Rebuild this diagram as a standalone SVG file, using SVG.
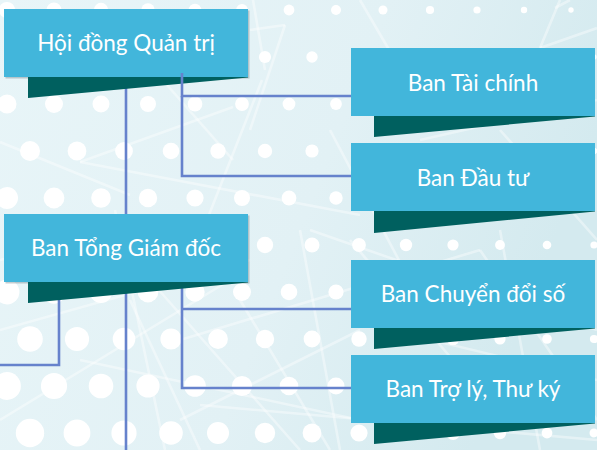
<svg xmlns="http://www.w3.org/2000/svg" width="597" height="450" viewBox="0 0 597 450">
<defs>
<linearGradient id="bg" x1="0" y1="0" x2="1" y2="0.3">
<stop offset="0" stop-color="#e8f5f8"/>
<stop offset="0.6" stop-color="#e2f1f5"/>
<stop offset="1" stop-color="#d4eaef"/>
</linearGradient>
<style>
.dot{fill:#ffffff}
.net{stroke:#ffffff;stroke-opacity:0.4;stroke-width:2.6;fill:none}
.box{fill:#42b6db}
.edge{fill:#5a6f77;opacity:0.35}
.shadow{fill:#00605f}
.conn{stroke:#6682cc;stroke-width:2.6;fill:none}
.lbl{font-family:Lato,"Open Sans","Liberation Sans",sans-serif;font-size:22.5px;fill:#ffffff;text-anchor:middle}
</style>
</defs>
<rect width="597" height="450" fill="url(#bg)"/>
<g id="network">
<line class="net" x1="0" y1="142" x2="130" y2="195"/>
<line class="net" x1="80" y1="162" x2="360" y2="215"/>
<line class="net" x1="80" y1="162" x2="233" y2="107"/>
<line class="net" x1="167" y1="85" x2="233" y2="160"/>
<line class="net" x1="262" y1="80" x2="205" y2="225"/>
<line class="net" x1="253" y1="0" x2="265" y2="70"/>
<line class="net" x1="250" y1="30" x2="285" y2="25"/>
<line class="net" x1="285" y1="25" x2="250" y2="130"/>
<line class="net" x1="360" y1="0" x2="395" y2="60"/>
<line class="net" x1="560" y1="0" x2="540" y2="48"/>
<line class="net" x1="555" y1="8" x2="570" y2="0"/>
<line class="net" x1="540" y1="48" x2="597" y2="28"/>
<line class="net" x1="0" y1="260" x2="120" y2="230"/>
<line class="net" x1="0" y1="330" x2="250" y2="260"/>
<line class="net" x1="0" y1="420" x2="230" y2="280"/>
<line class="net" x1="80" y1="360" x2="360" y2="420"/>
<line class="net" x1="115" y1="210" x2="165" y2="450"/>
<line class="net" x1="130" y1="300" x2="200" y2="450"/>
<line class="net" x1="150" y1="280" x2="300" y2="450"/>
<line class="net" x1="180" y1="420" x2="360" y2="330"/>
<line class="net" x1="240" y1="300" x2="330" y2="450"/>
<line class="net" x1="300" y1="230" x2="340" y2="450"/>
<line class="net" x1="180" y1="340" x2="480" y2="250"/>
<line class="net" x1="200" y1="405" x2="597" y2="440"/>
<line class="net" x1="310" y1="230" x2="597" y2="330"/>
<line class="net" x1="350" y1="240" x2="470" y2="380"/>
<line class="net" x1="480" y1="250" x2="597" y2="420"/>
<line class="net" x1="500" y1="130" x2="597" y2="240"/>
<line class="net" x1="420" y1="140" x2="597" y2="100"/>
<line class="net" x1="330" y1="130" x2="420" y2="300"/>
<line class="net" x1="500" y1="230" x2="540" y2="450"/>
<line class="net" x1="390" y1="330" x2="597" y2="380"/>
</g>
<g id="dots">
<circle class="dot" cx="7" cy="10" r="8.1"/><circle class="dot" cx="54" cy="10" r="7.6"/><circle class="dot" cx="101" cy="10" r="7.2"/><circle class="dot" cx="148" cy="10" r="6.8"/><circle class="dot" cx="195" cy="10" r="6.3"/><circle class="dot" cx="242" cy="10" r="5.9"/><circle class="dot" cx="289" cy="10" r="5.4"/><circle class="dot" cx="336" cy="10" r="5"/><circle class="dot" cx="383" cy="10" r="4.5"/><circle class="dot" cx="430" cy="10" r="4.1"/><circle class="dot" cx="477" cy="10" r="3.6"/><circle class="dot" cx="524" cy="10" r="3.2"/><circle class="dot" cx="571" cy="10" r="2.7"/>
<circle class="dot" cx="30" cy="57" r="8.6"/><circle class="dot" cx="77" cy="57" r="8.1"/><circle class="dot" cx="124" cy="57" r="7.6"/><circle class="dot" cx="171" cy="57" r="7.1"/><circle class="dot" cx="218" cy="57" r="6.6"/><circle class="dot" cx="265" cy="57" r="6.1"/><circle class="dot" cx="312" cy="57" r="5.7"/><circle class="dot" cx="359" cy="57" r="5.2"/><circle class="dot" cx="406" cy="57" r="4.7"/><circle class="dot" cx="453" cy="57" r="4.2"/><circle class="dot" cx="500" cy="57" r="3.7"/><circle class="dot" cx="547" cy="57" r="3.2"/><circle class="dot" cx="594" cy="57" r="2.7"/>
<circle class="dot" cx="7" cy="104" r="9.5"/><circle class="dot" cx="54" cy="104" r="9"/><circle class="dot" cx="101" cy="104" r="8.5"/><circle class="dot" cx="148" cy="104" r="8"/><circle class="dot" cx="195" cy="104" r="7.4"/><circle class="dot" cx="242" cy="104" r="6.9"/><circle class="dot" cx="289" cy="104" r="6.4"/><circle class="dot" cx="336" cy="104" r="5.9"/><circle class="dot" cx="383" cy="104" r="5.3"/><circle class="dot" cx="430" cy="104" r="4.8"/><circle class="dot" cx="477" cy="104" r="4.3"/><circle class="dot" cx="524" cy="104" r="3.8"/><circle class="dot" cx="571" cy="104" r="3.2"/>
<circle class="dot" cx="30" cy="151" r="10"/><circle class="dot" cx="77" cy="151" r="9.4"/><circle class="dot" cx="124" cy="151" r="8.9"/><circle class="dot" cx="171" cy="151" r="8.3"/><circle class="dot" cx="218" cy="151" r="7.7"/><circle class="dot" cx="265" cy="151" r="7.2"/><circle class="dot" cx="312" cy="151" r="6.6"/><circle class="dot" cx="359" cy="151" r="6"/><circle class="dot" cx="406" cy="151" r="5.5"/><circle class="dot" cx="453" cy="151" r="4.9"/><circle class="dot" cx="500" cy="151" r="4.3"/><circle class="dot" cx="547" cy="151" r="3.8"/><circle class="dot" cx="594" cy="151" r="3.2"/>
<circle class="dot" cx="7" cy="198" r="11"/><circle class="dot" cx="54" cy="198" r="10.4"/><circle class="dot" cx="101" cy="198" r="9.8"/><circle class="dot" cx="148" cy="198" r="9.2"/><circle class="dot" cx="195" cy="198" r="8.6"/><circle class="dot" cx="242" cy="198" r="8"/><circle class="dot" cx="289" cy="198" r="7.4"/><circle class="dot" cx="336" cy="198" r="6.7"/><circle class="dot" cx="383" cy="198" r="6.1"/><circle class="dot" cx="430" cy="198" r="5.5"/><circle class="dot" cx="477" cy="198" r="4.9"/><circle class="dot" cx="524" cy="198" r="4.3"/><circle class="dot" cx="571" cy="198" r="3.7"/>
<circle class="dot" cx="30" cy="245" r="11.4"/><circle class="dot" cx="77" cy="245" r="10.7"/><circle class="dot" cx="124" cy="245" r="10.1"/><circle class="dot" cx="171" cy="245" r="9.5"/><circle class="dot" cx="218" cy="245" r="8.8"/><circle class="dot" cx="265" cy="245" r="8.2"/><circle class="dot" cx="312" cy="245" r="7.5"/><circle class="dot" cx="359" cy="245" r="6.9"/><circle class="dot" cx="406" cy="245" r="6.2"/><circle class="dot" cx="453" cy="245" r="5.6"/><circle class="dot" cx="500" cy="245" r="4.9"/><circle class="dot" cx="547" cy="245" r="4.3"/><circle class="dot" cx="594" cy="245" r="3.6"/>
<circle class="dot" cx="7" cy="292" r="12.4"/><circle class="dot" cx="54" cy="292" r="11.7"/><circle class="dot" cx="101" cy="292" r="11.1"/><circle class="dot" cx="148" cy="292" r="10.4"/><circle class="dot" cx="195" cy="292" r="9.7"/><circle class="dot" cx="242" cy="292" r="9"/><circle class="dot" cx="289" cy="292" r="8.3"/><circle class="dot" cx="336" cy="292" r="7.6"/><circle class="dot" cx="383" cy="292" r="7"/><circle class="dot" cx="430" cy="292" r="6.3"/><circle class="dot" cx="477" cy="292" r="5.6"/><circle class="dot" cx="524" cy="292" r="4.9"/><circle class="dot" cx="571" cy="292" r="4.2"/>
<circle class="dot" cx="30" cy="339" r="12.8"/><circle class="dot" cx="77" cy="339" r="12.1"/><circle class="dot" cx="124" cy="339" r="11.3"/><circle class="dot" cx="171" cy="339" r="10.6"/><circle class="dot" cx="218" cy="339" r="9.9"/><circle class="dot" cx="265" cy="339" r="9.2"/><circle class="dot" cx="312" cy="339" r="8.4"/><circle class="dot" cx="359" cy="339" r="7.7"/><circle class="dot" cx="406" cy="339" r="7"/><circle class="dot" cx="453" cy="339" r="6.3"/><circle class="dot" cx="500" cy="339" r="5.6"/><circle class="dot" cx="547" cy="339" r="4.8"/><circle class="dot" cx="594" cy="339" r="4.1"/>
<circle class="dot" cx="7" cy="386" r="13.9"/><circle class="dot" cx="54" cy="386" r="13.1"/><circle class="dot" cx="101" cy="386" r="12.3"/><circle class="dot" cx="148" cy="386" r="11.6"/><circle class="dot" cx="195" cy="386" r="10.8"/><circle class="dot" cx="242" cy="386" r="10.1"/><circle class="dot" cx="289" cy="386" r="9.3"/><circle class="dot" cx="336" cy="386" r="8.5"/><circle class="dot" cx="383" cy="386" r="7.8"/><circle class="dot" cx="430" cy="386" r="7"/><circle class="dot" cx="477" cy="386" r="6.2"/><circle class="dot" cx="524" cy="386" r="5.5"/><circle class="dot" cx="571" cy="386" r="4.7"/>
<circle class="dot" cx="30" cy="433" r="14.2"/><circle class="dot" cx="77" cy="433" r="13.4"/><circle class="dot" cx="124" cy="433" r="12.6"/><circle class="dot" cx="171" cy="433" r="11.8"/><circle class="dot" cx="218" cy="433" r="11"/><circle class="dot" cx="265" cy="433" r="10.2"/><circle class="dot" cx="312" cy="433" r="9.4"/><circle class="dot" cx="359" cy="433" r="8.6"/><circle class="dot" cx="406" cy="433" r="7.8"/><circle class="dot" cx="453" cy="433" r="7"/><circle class="dot" cx="500" cy="433" r="6.2"/><circle class="dot" cx="547" cy="433" r="5.4"/><circle class="dot" cx="594" cy="433" r="4.5"/>
</g>
<g id="connectors-under">
<line class="conn" x1="126" y1="80" x2="126" y2="450"/>
<polyline class="conn" points="59,295 59,365 0,365"/>
<polyline class="conn" points="182,285 182,388 353,388"/>
<line class="conn" x1="182" y1="309" x2="353" y2="309"/>
</g>
<g id="node-hdqt">
<rect class="edge" x="5.5" y="10.5" width="244" height="68"/>
<polygon class="shadow" points="28,76 248,76 248,77.5 28,98"/>
<rect class="box" x="4" y="9" width="244" height="68"/>
<text class="lbl" x="126" y="50.5">Hội đồng Quản trị</text>
</g>
<g id="node-tgd">
<rect class="edge" x="5.5" y="215.5" width="244" height="68"/>
<polygon class="shadow" points="28,281 248,281 248,282.5 28,303"/>
<rect class="box" x="4" y="214" width="244" height="68"/>
<text class="lbl" x="126" y="255.5">Ban Tổng Giám đốc</text>
</g>
<g id="connectors">
<polyline class="conn" points="182,73 182,96 353,96"/>
<polyline class="conn" points="182,96 182,176 353,176"/>
</g>
<g id="node-taichinh">
<polygon class="shadow" points="374,115 595,115 595,116.5 374,137"/>
<rect class="box" x="351" y="48" width="244" height="68"/>
<text class="lbl" x="473" y="90.5">Ban Tài chính</text>
</g>
<g id="node-dautu">
<polygon class="shadow" points="374,210 595,210 595,211.5 374,233"/>
<rect class="box" x="351" y="143" width="244" height="68"/>
<text class="lbl" x="473" y="185.5">Ban Đầu tư</text>
</g>
<g id="node-chuyendoiso">
<polygon class="shadow" points="374,327 595,327 595,328.5 374,349"/>
<rect class="box" x="351" y="260" width="244" height="68"/>
<text class="lbl" x="473" y="302">Ban Chuyển đổi số</text>
</g>
<g id="node-troly">
<polygon class="shadow" points="374,422 595,422 595,423.5 374,444"/>
<rect class="box" x="351" y="355" width="244" height="68"/>
<text class="lbl" x="473" y="397">Ban Trợ lý, Thư ký</text>
</g>
</svg>
